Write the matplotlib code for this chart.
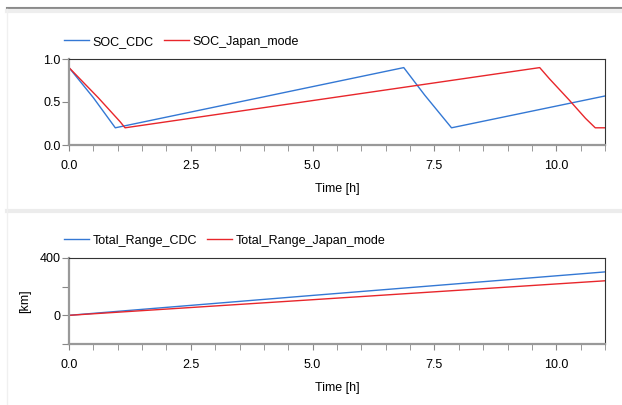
import matplotlib.pyplot as plt
from matplotlib.lines import Line2D
from matplotlib.ticker import MultipleLocator

plt.rcParams['font.family'] = ['Liberation Sans Narrow', 'Liberation Sans', 'DejaVu Sans']

# SOC traces (breakpoints)
t_soc_cdc = [0.0, 0.5, 0.95, 6.87, 7.3, 7.85, 11.0]
soc_cdc = [0.90, 0.55, 0.20, 0.90, 0.58, 0.20, 0.57]

t_soc_jp = [0.0, 0.6, 1.05, 1.15, 9.66, 9.86, 10.27, 10.6, 10.8, 11.0]
soc_jp = [0.90, 0.55, 0.27, 0.20, 0.90, 0.77, 0.52, 0.31, 0.20, 0.20]

# total range traces
t_range = [0.0, 5.0, 11.0]
range_cdc = [0.0, 139.0, 303.0]
range_jp = [0.0, 109.0, 241.0]

blue = '#3478d4'
red = '#e8262b'

fig = plt.figure(figsize=(6.22, 4.05), dpi=100)

# window decoration lines of the screenshot
fig.add_artist(Line2D([0.012, 1.0], [1 - 8/405, 1 - 8/405], color='#8a8a8a', lw=1.5))
fig.add_artist(Line2D([0.012, 1.0], [1 - 11/405, 1 - 11/405], color='#eeeeee', lw=3))
fig.add_artist(Line2D([0.012, 1.0], [1 - 211/405, 1 - 211/405], color='#ececec', lw=3))
fig.add_artist(Line2D([0.012, 0.012], [0.0, 1 - 9/405], color='#f0f0f0', lw=1))

ax1 = fig.add_axes([69/622, 260/405, 536/622, 86/405])
ax2 = fig.add_axes([69/622, 61/405, 536/622, 86/405])

ax1.plot(t_soc_cdc, soc_cdc, color=blue, lw=1, label='SOC_CDC')
ax1.plot(t_soc_jp, soc_jp, color=red, lw=1, label='SOC_Japan_mode')
ax1.set_ylim(0, 1.0)
ax1.yaxis.set_major_locator(MultipleLocator(0.5))

ax2.plot(t_range, range_cdc, color=blue, lw=1, label='Total_Range_CDC')
ax2.plot(t_range, range_jp, color=red, lw=1, label='Total_Range_Japan_mode')
ax2.set_ylim(-200, 400)
ax2.set_yticks([-200, 0, 200, 400])
ax2.set_yticklabels(['', '0', '', '400'])
ax2.set_ylabel('[km]', fontsize=9, labelpad=6)

for ax in (ax1, ax2):
    ax.set_xlim(0, 11)
    ax.xaxis.set_major_locator(MultipleLocator(2.5))
    ax.xaxis.set_minor_locator(MultipleLocator(0.5))
    ax.xaxis.set_major_formatter(lambda v, p: f'{v:.1f}')
    ax.set_xlabel('Time [h]', fontsize=9, labelpad=8)
    ax.tick_params(axis='both', which='both', labelsize=9, color='#888888',
                   direction='out', pad=3)
    ax.tick_params(axis='x', which='major', length=4, pad=7)
    ax.tick_params(axis='x', which='minor', length=4)
    ax.tick_params(axis='y', length=5, pad=1)
    for s in ('top', 'right'):
        ax.spines[s].set_color('#333333')
        ax.spines[s].set_linewidth(0.8)
    for s in ('left', 'bottom'):
        ax.spines[s].set_color('#999999')
        ax.spines[s].set_linewidth(1.6)
    ax.legend(loc='lower left', bbox_to_anchor=(-0.01, 1.13), ncol=2, frameon=False,
              fontsize=9, handlelength=2.0, handletextpad=0.3, columnspacing=0.8,
              borderaxespad=0, borderpad=0)

fig.savefig('out.png', dpi=100, facecolor='white')
